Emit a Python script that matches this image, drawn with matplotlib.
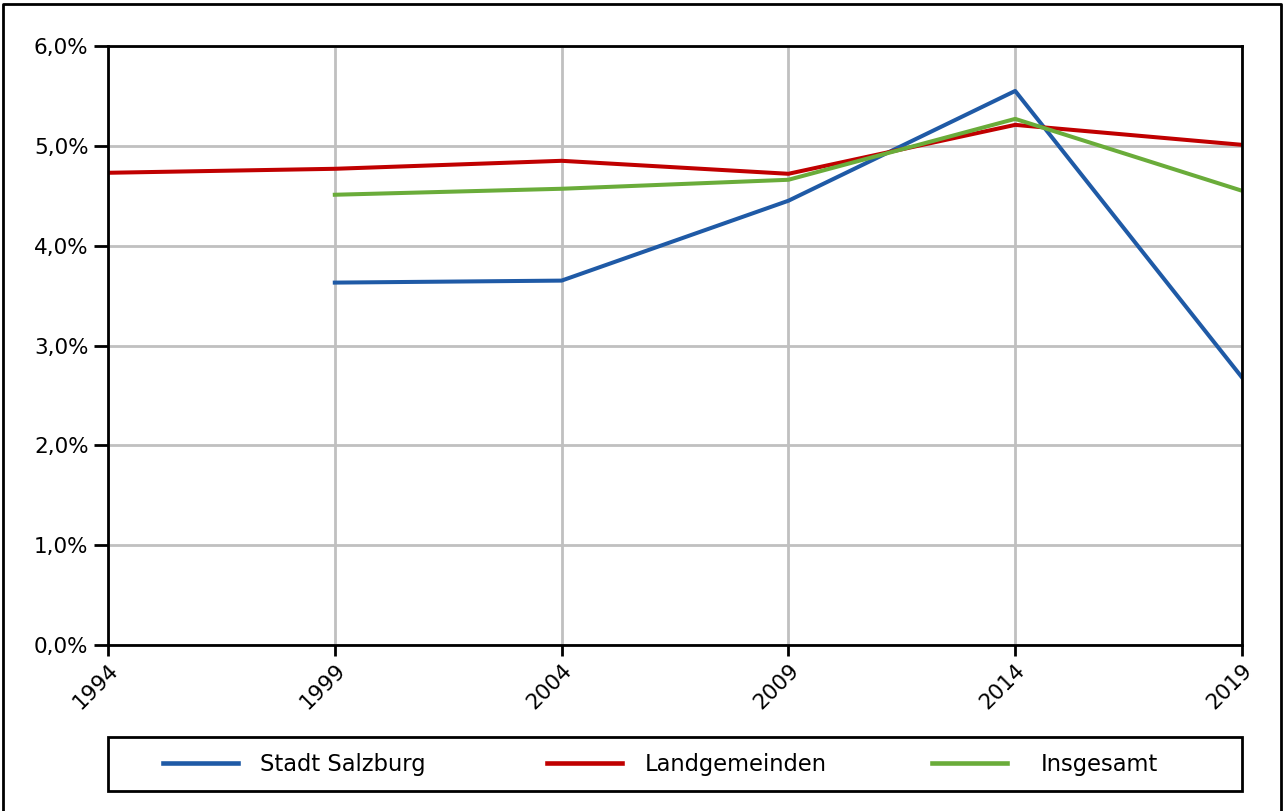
import matplotlib.pyplot as plt
from matplotlib.lines import Line2D
from matplotlib.patches import Rectangle
from matplotlib.ticker import FuncFormatter

years = [1994, 1999, 2004, 2009, 2014, 2019]
stadt_years = [1999, 2004, 2009, 2014, 2019]
stadt = [3.63, 3.65, 4.45, 5.55, 2.68]
land = [4.73, 4.77, 4.85, 4.72, 5.21, 5.01]
ges_years = [1999, 2004, 2009, 2014, 2019]
ges = [4.51, 4.57, 4.66, 5.27, 4.55]

W, H = 1283, 811
plt.rcParams["font.family"] = "DejaVu Sans"

fig = plt.figure(figsize=(W / 100, H / 100), dpi=100)
ax = fig.add_axes([108 / W, 1 - 645 / H, 1134 / W, 599 / H])

l1, = ax.plot(stadt_years, stadt, color="#1f5aa6", lw=2.9, label="Stadt Salzburg")
l2, = ax.plot(years, land, color="#c00000", lw=2.9, label="Landgemeinden")
l3, = ax.plot(ges_years, ges, color="#6aac3a", lw=2.9, label="Insgesamt")

ax.set_xlim(1994, 2019)
ax.set_ylim(0, 6)
ax.set_xticks(years)
ax.set_xticklabels([str(y) for y in years], rotation=45, ha="right",
                   rotation_mode="anchor", fontsize=15.5)
ax.set_yticks(range(7))
ax.yaxis.set_major_formatter(FuncFormatter(lambda v, p: f"{v:.1f}".replace(".", ",") + "%"))
ax.tick_params(axis="y", labelsize=15.5, length=10, width=2, pad=4)
ax.tick_params(axis="x", length=8, width=2, pad=3)
ax.grid(True, color="#c0c0c0", lw=2)
ax.set_axisbelow(True)
for s in ax.spines.values():
    s.set_linewidth(2)
    s.set_color("black")

# legend box and three entries placed like the original
fig.patches.append(Rectangle((108 / W, 1 - 791 / H), 1134 / W, 54 / H,
                             transform=fig.transFigure, fill=False,
                             edgecolor="black", lw=2))
for handle, x0 in zip([l1, l2, l3], [163, 547, 932]):
    leg = fig.legend(handles=[handle], loc="center left", frameon=False,
                     bbox_to_anchor=(x0 / W, 1 - 764 / H), borderaxespad=0,
                     borderpad=0, fontsize=16.3, handlelength=3.3,
                     handletextpad=1.0 if x0 < 900 else 1.5)
    for h in leg.get_lines():
        h.set_linewidth(3.3)

# outer border (left, top, right)
fig.add_artist(Line2D([3 / W, 3 / W, 1281 / W, 1281 / W], [0, 1 - 4 / H, 1 - 4 / H, 0],
                      transform=fig.transFigure, color="black", lw=2))

fig.savefig("out.png", dpi=100)
